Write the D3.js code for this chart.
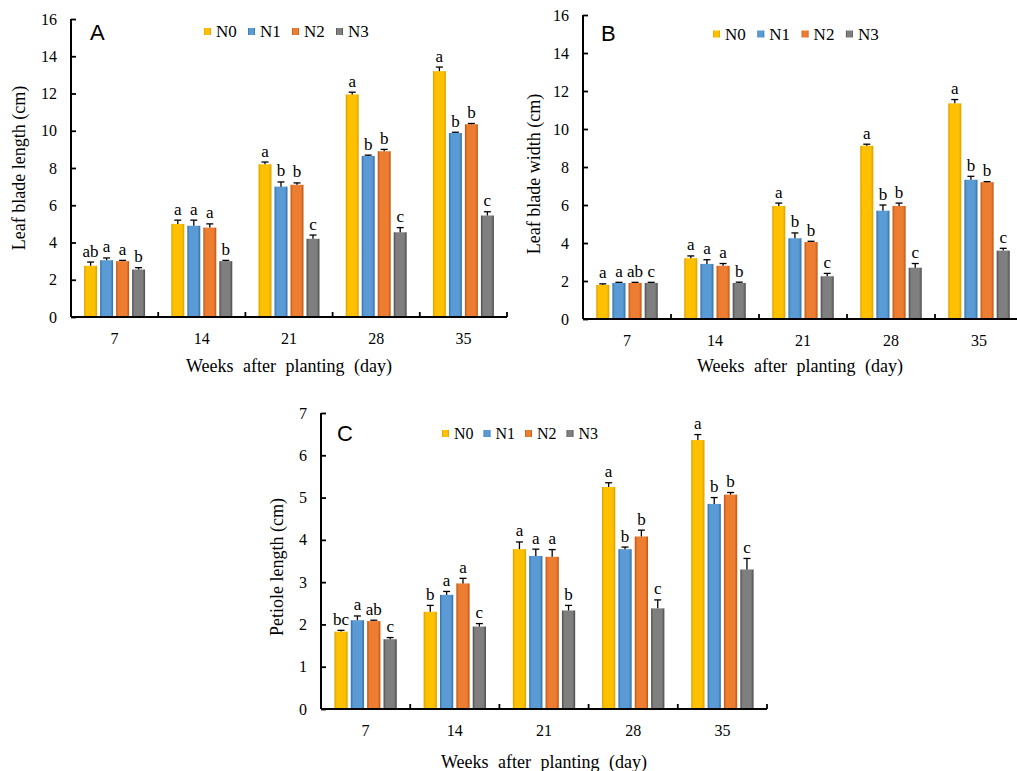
<!DOCTYPE html>
<html>
<head>
<meta charset="utf-8">
<script src="https://cdn.jsdelivr.net/npm/d3@7"></script>
<style>
body { margin: 0; background: #fff; }
</style>
</head>
<body>
<svg id="fig" width="1017" height="771"></svg>
<script>
var days = ['7', '14', '21', '28', '35'];
var series = ['N0', 'N1', 'N2', 'N3'];
var colors = ['#FFC000', '#5B9BD5', '#ED7D31', '#7F7F7F'];
var edges = ['#D9A000', '#2F6DA8', '#C0530F', '#4A4A4A'];

// A: leaf blade length, rows = days, cols = N0..N3
var lengthMean = [[2.75, 3.05, 3.0, 2.55], [5.0, 4.9, 4.8, 3.0], [8.2, 7.0, 7.1, 4.2], [11.95, 8.65, 8.9, 4.55], [13.2, 9.88, 10.35, 5.45]];
var lengthErr = [[0.2, 0.12, 0.04, 0.1], [0.2, 0.3, 0.2, 0.04], [0.12, 0.25, 0.1, 0.2], [0.12, 0.04, 0.1, 0.25], [0.22, 0.04, 0.04, 0.2]];
var lengthSig = [['ab', 'a', 'a', 'b'], ['a', 'a', 'a', 'b'], ['a', 'b', 'b', 'c'], ['a', 'b', 'b', 'c'], ['a', 'b', 'b', 'c']];

// B: leaf blade width
var widthMean = [[1.8, 1.9, 1.9, 1.9], [3.2, 2.9, 2.8, 1.9], [5.95, 4.25, 4.05, 2.25], [9.12, 5.7, 5.95, 2.7], [11.35, 7.33, 7.2, 3.6]];
var widthErr = [[0.05, 0.03, 0.03, 0.03], [0.12, 0.22, 0.12, 0.04], [0.15, 0.28, 0.04, 0.15], [0.08, 0.3, 0.15, 0.22], [0.2, 0.18, 0.03, 0.12]];
var widthSig = [['a', 'a', 'ab', 'c'], ['a', 'a', 'a', 'b'], ['a', 'b', 'b', 'c'], ['a', 'b', 'b', 'c'], ['a', 'b', 'b', 'c']];

// C: petiole length
var petioleMean = [[1.83, 2.1, 2.08, 1.65], [2.3, 2.7, 2.97, 1.95], [3.78, 3.62, 3.6, 2.33], [5.25, 3.78, 4.08, 2.38], [6.36, 4.85, 5.07, 3.3]];
var petioleErr = [[0.03, 0.1, 0.02, 0.04], [0.15, 0.08, 0.12, 0.07], [0.17, 0.16, 0.17, 0.12], [0.1, 0.05, 0.15, 0.2], [0.13, 0.15, 0.05, 0.26]];
var petioleSig = [['bc', 'a', 'ab', 'c'], ['b', 'a', 'a', 'c'], ['a', 'a', 'a', 'b'], ['a', 'b', 'b', 'c'], ['a', 'b', 'b', 'c']];

var yTicksBlade = [0, 2, 4, 6, 8, 10, 12, 14, 16];
var yTicksPetiole = [0, 1, 2, 3, 4, 5, 6, 7];

var SERIF = '"Times New Roman", "Liberation Serif", serif';
var SANS = 'Arial, "Liberation Sans", sans-serif';

var svg = d3.select('#fig');

// bar shading, like the excel bevel
var defs = svg.append('defs');
series.forEach(function (s, i) {
    var g = defs.append('linearGradient')
        .attr('id', 'grad' + i)
        .attr('x1', '0%').attr('x2', '100%').attr('y1', '0%').attr('y2', '0%');
    g.append('stop').attr('offset', '0%').attr('stop-color', edges[i]);
    g.append('stop').attr('offset', '18%').attr('stop-color', colors[i]);
    g.append('stop').attr('offset', '80%').attr('stop-color', colors[i]);
    g.append('stop').attr('offset', '100%').attr('stop-color', edges[i]);
});

var panels = [
    { tag: 'A', mean: lengthMean, err: lengthErr, sig: lengthSig, ticks: yTicksBlade, ymax: 16,
      left: 71, right: 507, top: 19, bottom: 317, ylabel: 'Leaf blade length (cm)',
      ylabX: 25, ylabY: 168, xlabY: 372, legX: 204, legY: 31.5, legStep: 44, tagX: 90, tagY: 40 },
    { tag: 'B', mean: widthMean, err: widthErr, sig: widthSig, ticks: yTicksBlade, ymax: 16,
      left: 583, right: 1023, top: 15, bottom: 319, ylabel: 'Leaf blade width (cm)',
      ylabX: 540, ylabY: 174, xlabY: 372, legX: 713, legY: 34, legStep: 44.3, tagX: 601, tagY: 40.5 },
    { tag: 'C', mean: petioleMean, err: petioleErr, sig: petioleSig, ticks: yTicksPetiole, ymax: 7,
      left: 321, right: 767, top: 413, bottom: 709, ylabel: 'Petiole length (cm)',
      ylabX: 283, ylabY: 567, xlabY: 768, legX: 442, legY: 433.5, legStep: 41.5, tagX: 337, tagY: 440.5 }
];

var drawPanel = function (p) {
    var x0 = d3.scaleBand()
        .domain(days)
        .range([p.left, p.right])
        .padding(0);
    var x1 = d3.scaleBand()
        .domain(series)
        .range([0, x0.bandwidth()])
        .paddingInner(0.19)
        .paddingOuter(0.82);
    var y = d3.scaleLinear()
        .domain([0, p.ymax])
        .range([p.bottom, p.top]);

    var g = svg.append('g').attr('class', 'panel' + p.tag);

    // bars
    var groups = g.selectAll('.grp')
        .data(days)
        .enter()
        .append('g')
        .attr('class', 'grp')
        .attr('transform', function (d) { return 'translate(' + x0(d) + ',0)'; });

    var cells = groups.selectAll('.cell')
        .data(function (d, i) {
            return series.map(function (s, j) {
                return { s: s, j: j, v: p.mean[i][j], e: p.err[i][j], t: p.sig[i][j] };
            });
        })
        .enter()
        .append('g')
        .attr('class', 'cell');

    cells.append('rect')
        .attr('x', function (d) { return x1(d.s); })
        .attr('y', function (d) { return y(d.v); })
        .attr('width', x1.bandwidth())
        .attr('height', function (d) { return y(0) - y(d.v); })
        .style('fill', function (d) { return 'url(#grad' + d.j + ')'; });

    // error bars, upper half only
    var cx = function (d) { return x1(d.s) + x1.bandwidth() / 2; };
    cells.append('line')
        .attr('x1', cx).attr('x2', cx)
        .attr('y1', function (d) { return y(d.v); })
        .attr('y2', function (d) { return y(d.v + d.e); })
        .style('stroke', '#000').style('stroke-width', 1.3);
    cells.append('line')
        .attr('x1', function (d) { return cx(d) - 3.5; })
        .attr('x2', function (d) { return cx(d) + 3.5; })
        .attr('y1', function (d) { return y(d.v + d.e); })
        .attr('y2', function (d) { return y(d.v + d.e); })
        .style('stroke', '#000').style('stroke-width', 1.3);

    cells.append('text')
        .attr('x', cx)
        .attr('y', function (d) { return y(d.v + d.e) - 5.5; })
        .attr('text-anchor', 'middle')
        .style('font-family', SERIF)
        .style('font-size', '17px')
        .text(function (d) { return d.t; });

    // y axis, ticks point inward
    var yAxis = d3.axisRight(y)
        .tickValues(p.ticks)
        .tickSize(5)
        .tickFormat('');
    var ya = g.append('g')
        .attr('transform', 'translate(' + p.left + ',0)')
        .call(yAxis);
    ya.select('.domain').attr('d', 'M0,' + p.bottom + 'V' + p.top).style('stroke-width', 2);
    ya.selectAll('.tick line').style('stroke-width', 1.8);
    g.selectAll('.ylab')
        .data(p.ticks)
        .enter()
        .append('text')
        .attr('x', p.left - 14)
        .attr('y', function (d) { return y(d) + 5.5; })
        .attr('text-anchor', 'end')
        .style('font-family', SERIF)
        .style('font-size', '16px')
        .text(function (d) { return d; });

    // x axis: ticks at band edges, pointing up
    var edgesX = days.map(function (d) { return x0(d); }).concat([p.right]);
    g.append('line')
        .attr('x1', p.left).attr('x2', p.right)
        .attr('y1', p.bottom).attr('y2', p.bottom)
        .style('stroke', '#000').style('stroke-width', 2);
    g.selectAll('.xtick')
        .data(edgesX.slice(1))
        .enter()
        .append('line')
        .attr('x1', function (d) { return d; }).attr('x2', function (d) { return d; })
        .attr('y1', p.bottom).attr('y2', p.bottom - 5)
        .style('stroke', '#000').style('stroke-width', 1.8);
    g.selectAll('.xlab')
        .data(days)
        .enter()
        .append('text')
        .attr('x', function (d) { return x0(d) + x0.bandwidth() / 2; })
        .attr('y', p.bottom + 26.5)
        .attr('text-anchor', 'middle')
        .style('font-family', SERIF)
        .style('font-size', '16px')
        .text(function (d) { return d; });

    // titles
    var visRight = Math.min(p.right, 1017);
    g.append('text')
        .attr('x', (p.left + visRight) / 2)
        .attr('y', p.xlabY)
        .attr('text-anchor', 'middle')
        .style('font-family', SERIF)
        .style('font-size', '18px')
        .style('word-spacing', '5px')
        .text('Weeks after planting (day)');
    g.append('text')
        .attr('transform', 'translate(' + p.ylabX + ',' + p.ylabY + ') rotate(-90)')
        .attr('text-anchor', 'middle')
        .style('font-family', SERIF)
        .style('font-size', '18px')
        .text(p.ylabel);
    g.append('text')
        .attr('x', p.tagX)
        .attr('y', p.tagY)
        .style('font-family', SANS)
        .style('font-size', '22px')
        .text(p.tag);

    // legend
    var leg = g.selectAll('.leg')
        .data(series)
        .enter()
        .append('g')
        .attr('class', 'leg')
        .attr('transform', function (d, i) { return 'translate(' + (p.legX + i * p.legStep) + ',' + p.legY + ')'; });
    leg.append('rect')
        .attr('x', 0).attr('y', -3.5)
        .attr('width', 7).attr('height', 7)
        .style('fill', function (d, i) { return 'url(#grad' + i + ')'; });
    leg.append('text')
        .attr('x', 12)
        .attr('y', 5.5)
        .style('font-family', SERIF)
        .style('font-size', p.tag === 'C' ? '16px' : '17px')
        .text(function (d) { return d; });
};

panels.forEach(drawPanel);
</script>
</body>
</html>
